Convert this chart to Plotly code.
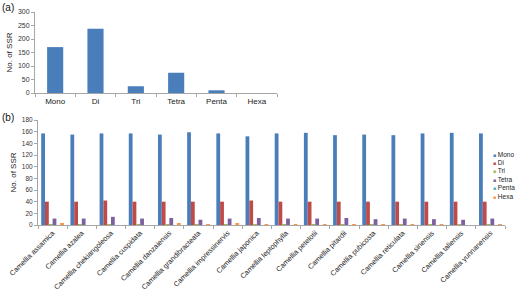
import plotly.graph_objects as go

# Panel (a)
motif_types = ["Mono", "Di", "Tri", "Tetra", "Penta", "Hexa"]
total_ssr = [170, 238, 25, 75, 10, 0]

# Panel (b)
species = ["Camellia assamica", "Camellia azalea", "Camellia chekiangoleosa",
           "Camellia cuspidata", "Camellia danzaiensis", "Camellia grandibracteata",
           "Camellia impressinervis", "Camellia japonica", "Camellia leptophylla",
           "Camellia petelotii", "Camellia pitardii", "Camellia pubicosta",
           "Camellia reticulata", "Camellia sinensis", "Camellia taliensis",
           "Camellia yunnanensis"]
mono = [157, 155, 157, 157, 155, 159, 157, 152, 157, 158, 154, 155, 154, 157, 158, 157]
di = [40, 40, 42, 40, 40, 40, 40, 42, 40, 40, 40, 40, 40, 40, 40, 40]
tri = [1, 1, 1, 1, 1, 1, 1, 1, 1, 1, 1, 1, 1, 1, 1, 1]
tetra = [11, 11, 14, 11, 12, 9, 11, 12, 11, 11, 12, 10, 11, 10, 9, 11]
penta = [0, 0, 0, 0, 0, 0, 0, 0, 0, 0, 0, 0, 0, 0, 0, 0]
hexa = [2, 0, 0, 0, 2, 1, 2, 1, 1, 1, 1, 1, 1, 1, 0, 1]
series_names = ["Mono", "Di", "Tri", "Tetra", "Penta", "Hexa"]
series_colors = ["#4A7EBB", "#BE4B48", "#9BBB59", "#7D60A0", "#4BACC6", "#F79646"]

FONT = "Liberation Sans, Arial, sans-serif"
W, H = 520, 291

fig = go.Figure()
fig.add_trace(go.Bar(x=motif_types, y=total_ssr, marker_color="#4A7EBB",
                     marker_line_width=0, width=0.4, xaxis="x", yaxis="y",
                     showlegend=False))

BW = 0.13
for i, (name, vals, col) in enumerate(zip(series_names, [mono, di, tri, tetra, penta, hexa],
                                          series_colors)):
    fig.add_trace(go.Bar(x=species, y=vals, name=name, marker_color=col,
                         marker_line_width=0, width=BW, offset=-3 * BW + i * BW,
                         xaxis="x2", yaxis="y2", showlegend=False))

def px_x(p):
    return p / W

def px_y(p):
    return 1 - p / H

axis_common = dict(showline=True, linecolor="#A6A6A6", linewidth=1, showgrid=False,
                   zeroline=False, ticks="outside", tickcolor="#A6A6A6", ticklen=3,
                   automargin=False)

fig.update_layout(
    width=W, height=H,
    margin=dict(l=0, r=0, t=0, b=0),
    paper_bgcolor="white", plot_bgcolor="white",
    font=dict(family=FONT, color="#333333"),
    barmode="overlay",
    xaxis=dict(domain=[px_x(35), px_x(277)], anchor="y", tickson="boundaries",
               tickfont=dict(size=8, color="#222222"), **axis_common),
    yaxis=dict(domain=[px_y(93), px_y(12)], anchor="x", range=[0, 300], dtick=50,
               tickfont=dict(size=7, color="#333333"),
               title=dict(text="No. of SSR", font=dict(size=8, color="#222222"), standoff=4),
               **axis_common),
    xaxis2=dict(domain=[px_x(38), px_x(505)], anchor="y2", tickson="boundaries",
                tickangle=-45, tickfont=dict(size=7.2, color="#222222"), **axis_common),
    yaxis2=dict(domain=[px_y(225), px_y(120)], anchor="x2", range=[0, 180], dtick=20,
                tickfont=dict(size=6.5, color="#333333"),
                title=dict(text="No. of SSR", font=dict(size=8, color="#222222"), standoff=4),
                **axis_common),
)

fig.add_annotation(text="(a)", x=0, y=1, xref="paper", yref="paper", xanchor="left",
                   yanchor="top", showarrow=False, font=dict(size=10, color="#111111"))
fig.add_annotation(text="(b)", x=0, y=px_y(110), xref="paper", yref="paper", xanchor="left",
                   yanchor="top", showarrow=False, font=dict(size=10, color="#111111"))

# legend built from series names and colours
for i, (name, col) in enumerate(zip(series_names, series_colors)):
    fig.add_annotation(
        text=f"<span style='color:{col};font-size:5px'>■</span> {name}",
        x=px_x(492), y=px_y(154 + i * 8.4), xref="paper", yref="paper",
        xanchor="left", yanchor="middle", showarrow=False, borderpad=0,
        font=dict(size=6.5, color="#222222"))

fig.write_html("out.html", config={"displayModeBar": False},
               post_script="document.body.style.margin='0';document.body.style.overflow='hidden';")
